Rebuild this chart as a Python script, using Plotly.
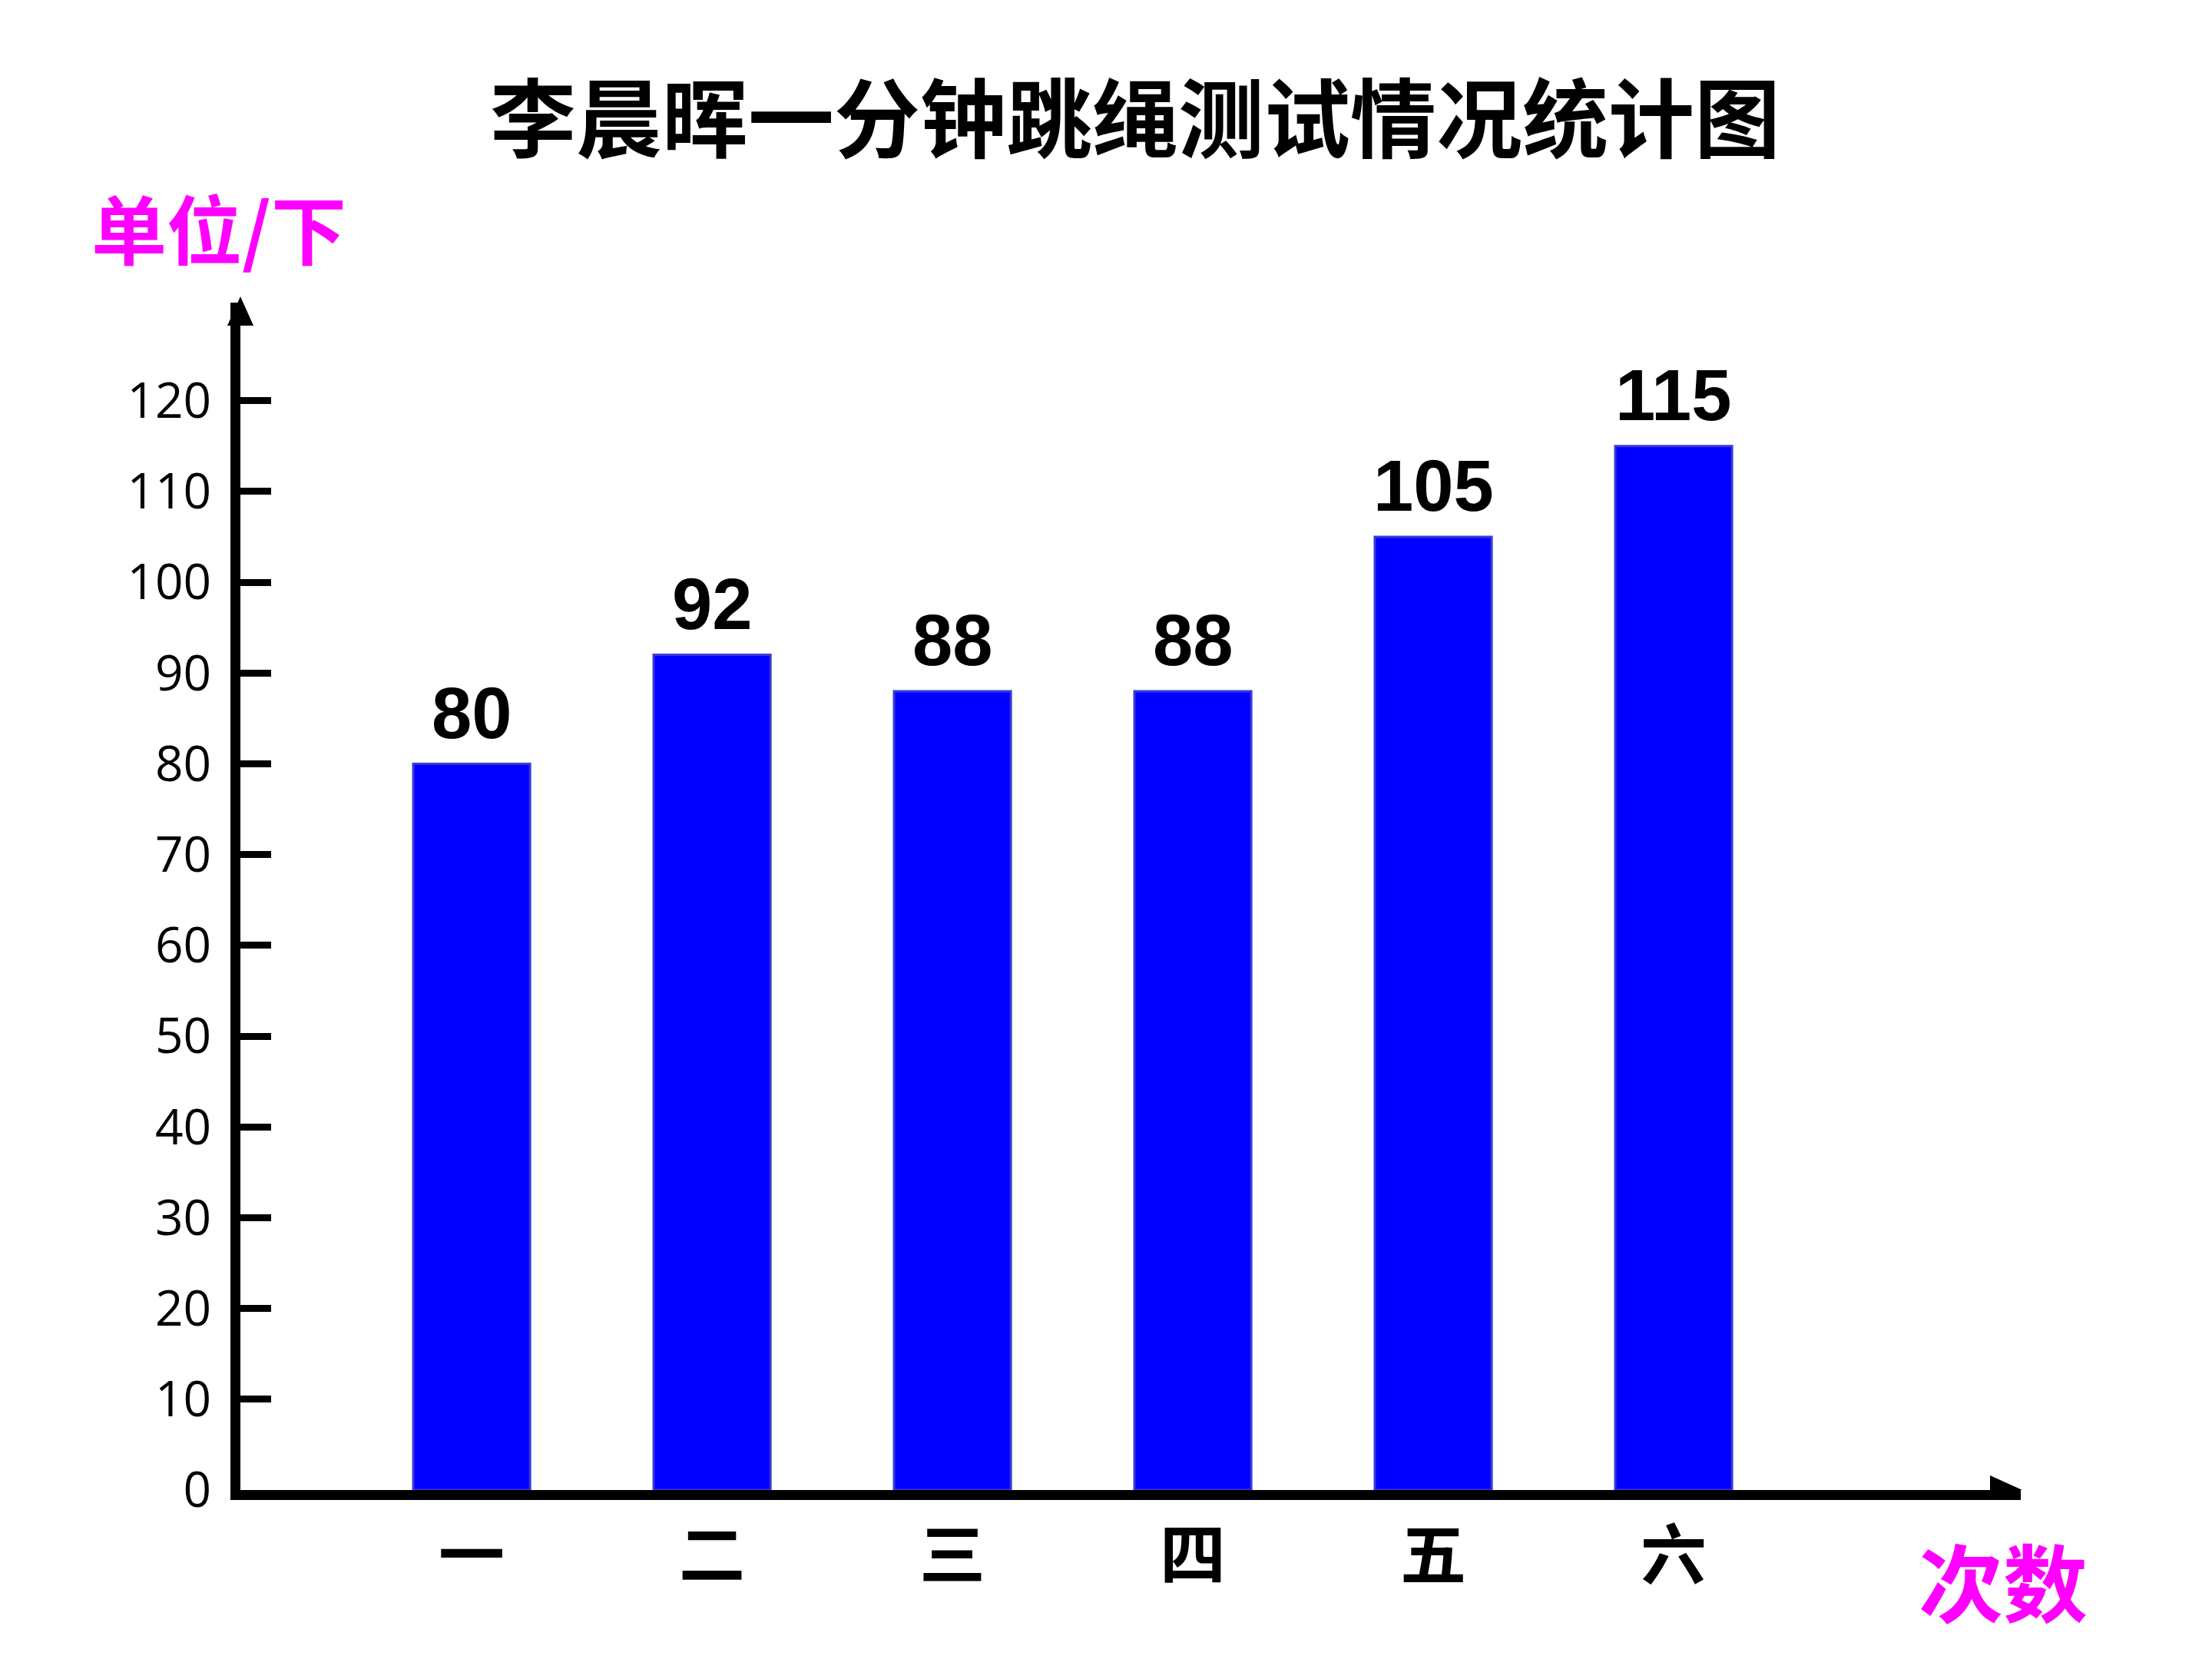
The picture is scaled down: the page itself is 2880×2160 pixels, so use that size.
import plotly.graph_objects as go

categories = ["一", "二", "三", "四", "五", "六"]
values = [80, 92, 88, 88, 105, 115]
y_ticks = [0, 10, 20, 30, 40, 50, 60, 70, 80, 90, 100, 110, 120]
y_tick_labels = [str(v) for v in y_ticks]

title_text = "李晨晖一分钟跳绳测试情况统计图"
y_unit_text = "单位/下"
x_unit_text = "次数"

W, H = 2880, 2160
L, R, T, B = 305, 257, 386, 228
PW, PH = W - L - R, H - T - B


def px(xpix):
    return (xpix - L) / PW


def py(ypix):
    return (H - B - ypix) / PH


fig = go.Figure()
fig.add_trace(go.Bar(
    x=categories, y=values, width=0.486,
    marker=dict(color="#0000FF", line=dict(color="#3a3ad8", width=3)),
    hoverinfo="skip",
))

annotations = []
for c, v in zip(categories, values):
    annotations.append(dict(
        x=c, y=v, xref="x", yref="y", text="<b>%d</b>" % v, showarrow=False,
        yanchor="middle", yshift=66,
        font=dict(family="Liberation Sans, Arial", size=94, color="black"),
    ))

annotations.append(dict(
    x=px(1470), y=py(140), xref="paper", yref="paper", text="<b>" + title_text + "</b>",
    showarrow=False, xanchor="center", yanchor="middle",
    font=dict(family="Noto Sans CJK SC", size=112, color="black"),
))
annotations.append(dict(
    x=px(277), y=py(286), xref="paper", yref="paper", text="<b>" + y_unit_text + "</b>",
    showarrow=False, xanchor="center", yanchor="middle",
    font=dict(family="Noto Sans CJK SC", size=98, color="#FF00FF"),
))
annotations.append(dict(
    x=px(2600), y=py(2048), xref="paper", yref="paper", text="<b>" + x_unit_text + "</b>",
    showarrow=False, xanchor="center", yanchor="middle",
    font=dict(family="Noto Sans CJK SC", size=110, color="#FF00FF"),
))

shapes = [
    # x-axis arrowhead
    dict(type="path", xref="x domain", yref="y", xsizemode="pixel", ysizemode="pixel",
         xanchor=1, yanchor=0, path="M -40 19 L 2 0 L -40 -19 Z",
         fillcolor="black", line=dict(width=0)),
    # y-axis arrowhead
    dict(type="path", xref="x domain", yref="y domain", xsizemode="pixel", ysizemode="pixel",
         xanchor=0, yanchor=1, path="M -17 -30 L 0 8 L 17 -30 Z",
         fillcolor="black", line=dict(width=0)),
]

fig.update_layout(
    width=W, height=H,
    margin=dict(l=L, r=R, t=T, b=B, pad=0),
    paper_bgcolor="white", plot_bgcolor="white",
    showlegend=False,
    annotations=annotations,
    shapes=shapes,
)
fig.update_xaxes(
    type="category", range=[-0.962, 6.444],
    showline=True, linecolor="black", linewidth=13,
    showgrid=False, zeroline=False, ticks="",
    tickvals=categories, ticktext=["<b>%s</b>" % c for c in categories],
    tickfont=dict(family="Noto Sans CJK SC", size=86, color="black"),
    ticklabelstandoff=0,
)
fig.update_yaxes(
    range=[0, 130.8],
    showline=True, linecolor="black", linewidth=13,
    showgrid=False, zeroline=False,
    ticks="inside", ticklen=40, tickwidth=9, tickcolor="black",
    tickvals=y_ticks, ticktext=y_tick_labels,
    tickfont=dict(family="Open Sans", size=64, color="black"),
    ticklabelstandoff=12,
)

fig.write_html("out.html")
